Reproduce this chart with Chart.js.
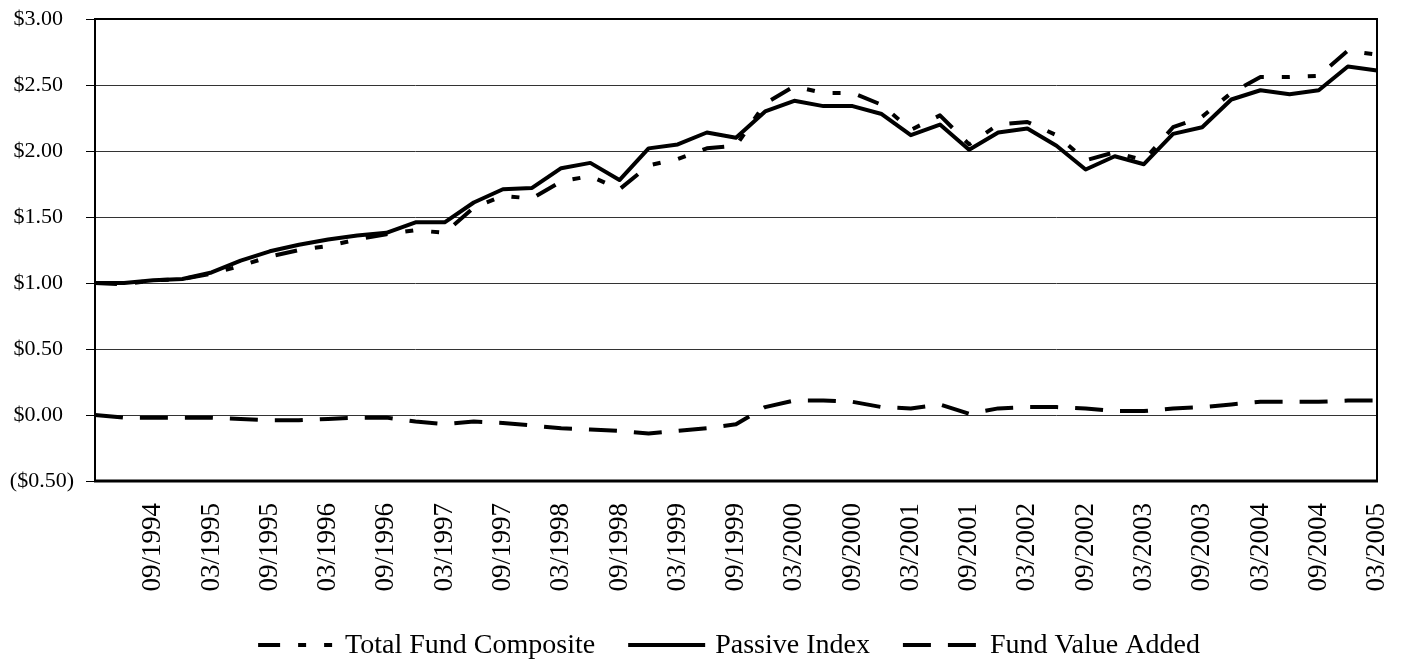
<!DOCTYPE html>
<html>
<head>
<meta charset="utf-8">
<script src="https://cdn.jsdelivr.net/npm/chart.js@4.4.1/dist/chart.umd.min.js"></script>
<style>
  html, body { margin: 0; padding: 0; background: #fff; }
  #wrap { width: 1403px; height: 660px; }
</style>
</head>
<body>
<div id="wrap"><canvas id="growthChart" width="1403" height="660"></canvas></div>
<script>
// quarter ends, 03/1994 .. 03/2005
const quarters = [
  '03/1994','06/1994','09/1994','12/1994','03/1995','06/1995','09/1995','12/1995',
  '03/1996','06/1996','09/1996','12/1996','03/1997','06/1997','09/1997','12/1997',
  '03/1998','06/1998','09/1998','12/1998','03/1999','06/1999','09/1999','12/1999',
  '03/2000','06/2000','09/2000','12/2000','03/2001','06/2001','09/2001','12/2001',
  '03/2002','06/2002','09/2002','12/2002','03/2003','06/2003','09/2003','12/2003',
  '03/2004','06/2004','09/2004','12/2004','03/2005'
];

const totalFund = [
  1.00, 0.99, 1.02, 1.03, 1.07, 1.13, 1.20, 1.25, 1.28, 1.33, 1.37, 1.40, 1.38, 1.57, 1.66,
  1.64, 1.77, 1.81, 1.71, 1.89, 1.94, 2.02, 2.04, 2.36, 2.49, 2.44, 2.44, 2.35, 2.16, 2.27,
  2.05, 2.20, 2.22, 2.12, 1.93, 1.99, 1.93, 2.18, 2.26, 2.44, 2.56, 2.56, 2.57, 2.76, 2.73
];

const passiveIndex = [
  1.00, 1.00, 1.02, 1.03, 1.08, 1.17, 1.24, 1.29, 1.33, 1.36, 1.38, 1.46, 1.46, 1.61, 1.71,
  1.72, 1.87, 1.91, 1.78, 2.02, 2.05, 2.14, 2.10, 2.30, 2.38, 2.34, 2.34, 2.28, 2.12, 2.20,
  2.01, 2.14, 2.17, 2.04, 1.86, 1.96, 1.90, 2.13, 2.18, 2.39, 2.46, 2.43, 2.46, 2.64, 2.61
];

const valueAdded = [
  0.00, -0.02, -0.02, -0.02, -0.02, -0.03, -0.04, -0.04, -0.03, -0.02, -0.02, -0.05, -0.07, -0.05, -0.06,
  -0.08, -0.10, -0.11, -0.12, -0.14, -0.12, -0.10, -0.07, 0.06, 0.11, 0.11, 0.10, 0.06, 0.05, 0.08,
  0.01, 0.05, 0.06, 0.06, 0.05, 0.03, 0.03, 0.05, 0.06, 0.08, 0.10, 0.10, 0.10, 0.11, 0.11
];

const seriesNames = ['Total Fund Composite', 'Passive Index', 'Fund Value Added'];

const serif = '"Liberation Serif", "Times New Roman", serif';

// black frame round the plot area
const framePlugin = {
  id: 'frame',
  afterDatasetsDraw(chart) {
    const a = chart.chartArea;
    const ctx = chart.ctx;
    ctx.save();
    ctx.strokeStyle = '#000';
    ctx.lineWidth = 2;
    ctx.beginPath();
    ctx.moveTo(a.left, a.bottom);
    ctx.lineTo(a.left, a.top);
    ctx.lineTo(a.right, a.top);
    ctx.lineTo(a.right, a.bottom);
    ctx.stroke();
    ctx.lineWidth = 3;
    ctx.beginPath();
    ctx.moveTo(a.left - 1, a.bottom);
    ctx.lineTo(a.right + 1, a.bottom);
    ctx.stroke();
    ctx.restore();
  }
};

// legend row under the axis labels
const legendPlugin = {
  id: 'bottomLegend',
  afterDraw(chart) {
    const ctx = chart.ctx;
    const sets = chart.data.datasets;
    const markW = 77, markGap = 10, itemGap = 33;
    ctx.save();
    ctx.font = '28px ' + serif;
    const widths = sets.map(d => markW + markGap + ctx.measureText(d.label).width);
    const total = widths.reduce((s, w) => s + w, 0) + itemGap * (sets.length - 1);
    let x = (chart.chartArea.left + chart.chartArea.right) / 2 - total / 2 - 7;
    const y = chart.height - 15;
    sets.forEach((d, i) => {
      ctx.strokeStyle = '#000';
      ctx.lineWidth = 4;
      ctx.lineCap = 'butt';
      ctx.setLineDash(d.borderDash || []);
      ctx.beginPath();
      ctx.moveTo(x, y);
      ctx.lineTo(x + markW, y);
      ctx.stroke();
      ctx.setLineDash([]);
      ctx.fillStyle = '#000';
      ctx.textBaseline = 'middle';
      ctx.textAlign = 'left';
      ctx.fillText(d.label, x + markW + markGap, y + 1);
      x += widths[i] + itemGap;
    });
    ctx.restore();
  }
};

const ctx = document.getElementById('growthChart');

new Chart(ctx, {
  type: 'line',
  data: {
    labels: quarters,
    datasets: [
      {
        label: seriesNames[0],
        data: totalFund,
        borderColor: '#000',
        borderWidth: 4,
        borderDash: [22, 18, 8, 18, 8, 18],
      },
      {
        label: seriesNames[1],
        data: passiveIndex,
        borderColor: '#000',
        borderWidth: 4,
      },
      {
        label: seriesNames[2],
        data: valueAdded,
        borderColor: '#000',
        borderWidth: 4,
        borderDash: [28, 17],
      }
    ]
  },
  options: {
    responsive: false,
    animation: false,
    layout: {
      padding: { top: 19, right: 26, bottom: 64, left: 0 }
    },
    elements: {
      point: { radius: 0 },
      line: { tension: 0, borderJoinStyle: 'round', borderCapStyle: 'butt' }
    },
    plugins: {
      legend: { display: false },
      tooltip: { enabled: false }
    },
    scales: {
      x: {
        offset: false,
        grid: { display: false, drawTicks: false },
        border: { display: false },
        afterFit: (scale) => {
          scale.height = 115;
          scale.paddingLeft = 0;
          scale.paddingRight = 0;
        },
        ticks: {
          autoSkip: false,
          minRotation: 90,
          maxRotation: 90,
          padding: 22,
          color: '#000',
          font: { family: serif, size: 27 },
          callback: function (value, index) {
            return (index > 0 && index % 2 === 0) ? quarters[index] : '';
          }
        }
      },
      y: {
        min: -0.5,
        max: 3,
        grid: {
          color: '#333',
          lineWidth: 1,
          drawTicks: true,
          tickLength: 9,
          tickColor: '#000'
        },
        border: { display: false },
        afterFit: (scale) => {
          scale.width = 95;
          scale.paddingTop = 0;
          scale.paddingBottom = 0;
        },
        ticks: {
          stepSize: 0.5,
          padding: 12,
          color: '#000',
          font: { family: serif, size: 22 },
          callback: function (value) {
            if (value < 0) return '($' + Math.abs(value).toFixed(2) + ')';
            return '$' + value.toFixed(2) + '\u2002';
          }
        }
      }
    }
  },
  plugins: [framePlugin, legendPlugin]
});
</script>
</body>
</html>
